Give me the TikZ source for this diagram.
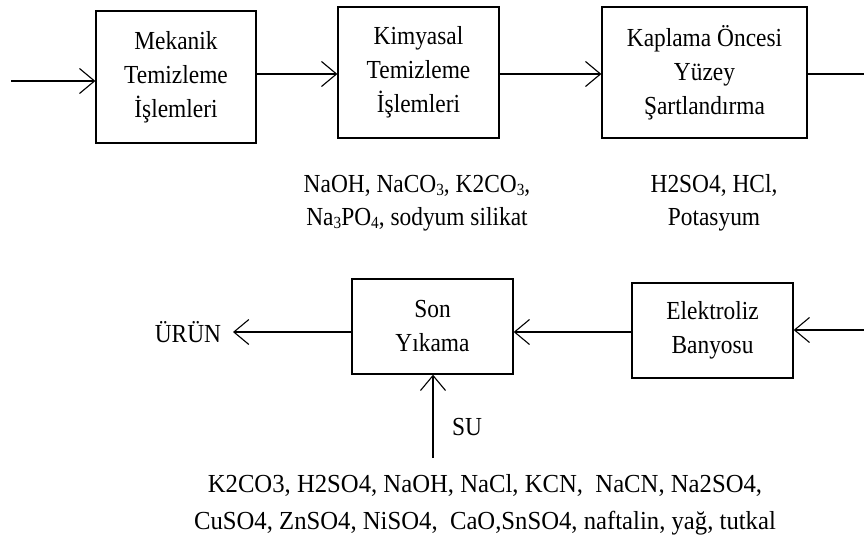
\documentclass[tikz,border=0pt]{standalone}
\usepackage{fontspec}
\setmainfont[FakeStretch=0.9]{Liberation Serif}
\newfontfamily\wideserif[FakeStretch=0.95]{Liberation Serif}
\usetikzlibrary{arrows.meta}
\newcommand{\chsub}[1]{\raisebox{-0.3ex}{\fontsize{17}{17}\selectfont #1}}
\begin{document}
\begin{tikzpicture}[x=1pt,y=-1pt,
  box/.style={draw, line width=1.3pt, inner sep=0pt, align=center, font=\fontsize{26}{34}\selectfont},
  lbl/.style={inner sep=0pt, align=center, font=\fontsize{26}{33}\selectfont},
  arr/.style={line width=1.3pt, -{Straight Barb[length=15pt,width=25pt,line width=1.1pt]}},
  ln/.style={line width=1.3pt}]
\useasboundingbox (0,0) rectangle (864,543);
% boxes
\node[box, minimum width=160pt, minimum height=132pt] (b1) at (176,77) {Mekanik\\Temizleme\\İşlemleri};
\node[box, minimum width=161pt, minimum height=131pt] (b2) at (418.5,72.5) {Kimyasal\\Temizleme\\İşlemleri};
\node[box, minimum width=205pt, minimum height=131pt] (b3) at (704.5,72.5) {Kaplama Öncesi\\Yüzey\\Şartlandırma};
\node[box, minimum width=161pt, minimum height=95pt] (son) at (432.5,326.5) {Son\\Yıkama};
\node[box, minimum width=161pt, minimum height=95pt] (elk) at (712.5,330.5) {Elektroliz\\Banyosu};
% labels
\node[lbl] (l2) at (417,203) {NaOH, NaCO\chsub{3}, K2CO\chsub{3},\\Na\chsub{3}PO\chsub{4}, sodyum silikat};
\node[lbl] (l3) at (714,203) {H2SO4, HCl,\\Potasyum};
\node[lbl, anchor=base] (urun) at (188,342) {ÜRÜN};
\node[lbl] (sul) at (467,427) {SU};
\node[inner sep=0pt, align=center, font=\wideserif\fontsize{26}{37}\selectfont] (chem) at (485,505)
  {K2CO3, H2SO4, NaOH, NaCl, KCN,\ \ NaCN, Na2SO4,\\CuSO4, ZnSO4, NiSO4,\ \ CaO,SnSO4, naftalin, yağ, tutkal};
% connector end points
\coordinate (in) at (11,81);
\coordinate (ro) at (864,74);
\coordinate (re) at (864,330);
\coordinate (ue) at (233,332);
\coordinate (su) at (433,458);
% connectors
\draw[arr] (in) -- (in -| b1.west);
\draw[arr] (b1.east |- ro) -- (b2.west |- ro);
\draw[arr] (b2.east |- ro) -- (b3.west |- ro);
\draw[ln] (b3.east |- ro) -- (ro);
\draw[arr] (re) -- (re -| elk.east);
\draw[arr] (elk.west |- ue) -- (son.east |- ue);
\draw[arr] (ue -| son.west) -- (ue);
\draw[arr] (su) -- (su |- son.south);
\end{tikzpicture}
\end{document}
